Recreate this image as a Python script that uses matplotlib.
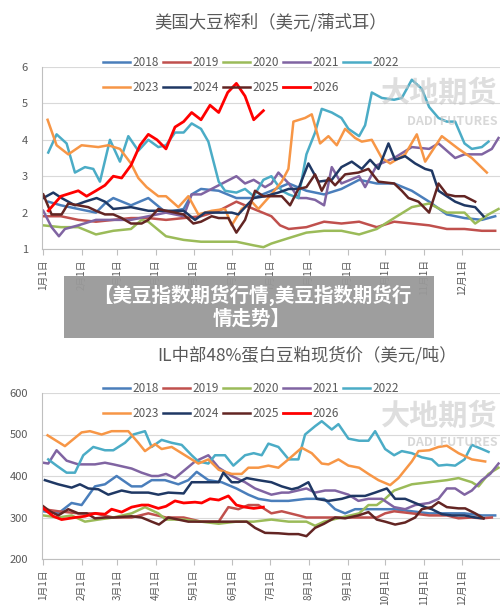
import matplotlib
matplotlib.use("Agg")
import matplotlib.pyplot as plt
from matplotlib.patches import Rectangle

plt.rcParams['font.family'] = ['Noto Sans CJK SC', 'DejaVu Sans']

years = ['2018','2019','2020','2021','2022','2023','2024','2025','2026']
colors = ['#4a7ebb','#c0504d','#9bbb59','#8064a2','#4bacc6','#f79646','#1f3864','#632523','#ff0000']
month_days = [0,31,59,90,120,151,181,212,243,273,304,334]
month_labels = [f'{m}月1日' for m in range(1,13)]

# positions are read in 1/3-pixel units of the reference; converted to day-of-year
def to_day(xs):
    return [(x-135)/3.757 for x in xs]

crush = {
 '2018': ([150,188,240,293,320,345,398,450,503,556,580,608,661,714,766,819,871,924,977,1029,1082,1135,1187,1240,1292,1345,1398,1450,1490],
          [2.3,2.2,2.1,2.0,2.25,2.4,2.2,2.4,2.0,2.1,2.5,2.65,2.6,2.4,2.4,2.6,2.8,2.6,2.5,2.65,2.9,2.8,2.8,2.6,2.3,1.95,1.85,1.8,1.9]),
 '2019': ([135,188,240,293,345,398,450,503,556,608,661,714,766,819,845,871,924,977,1029,1082,1135,1187,1240,1292,1345,1398,1450,1490],
          [1.9,1.9,1.8,1.75,1.8,1.85,1.85,1.8,1.85,1.9,2.05,2.3,2.1,1.9,1.65,1.55,1.6,1.75,1.7,1.75,1.6,1.75,1.7,1.65,1.55,1.55,1.5,1.5]),
 '2020': ([135,188,240,293,345,398,430,450,503,556,608,661,714,766,795,819,871,924,977,1029,1082,1135,1187,1240,1292,1345,1398,1430,1470,1500],
          [1.65,1.6,1.6,1.4,1.5,1.55,1.8,1.75,1.35,1.25,1.2,1.2,1.2,1.1,1.05,1.15,1.3,1.45,1.5,1.5,1.4,1.55,1.85,2.15,2.25,2.0,2.0,1.7,1.95,2.1]),
 '2021': ([135,160,182,200,240,293,345,398,450,503,556,580,608,661,714,740,766,800,819,840,871,900,924,950,977,1000,1029,1082,1100,1135,1187,1240,1292,1320,1345,1370,1398,1450,1480,1500],
          [2.05,1.6,1.35,1.55,1.65,1.8,1.8,1.8,1.9,2.0,1.9,2.5,2.5,2.75,3.0,2.8,2.9,2.7,2.8,3.1,2.8,2.4,2.4,2.35,2.2,3.25,2.8,3.0,2.7,3.3,3.5,3.8,3.75,3.9,3.7,3.5,3.6,3.6,3.75,4.05]),
 '2022': ([150,175,205,230,260,285,305,335,365,390,420,450,480,503,530,556,580,608,630,661,680,714,740,766,795,819,850,871,900,924,950,970,1000,1029,1050,1082,1100,1120,1150,1187,1210,1240,1270,1292,1320,1345,1370,1398,1420,1450,1470],
          [3.65,4.15,3.9,3.1,3.25,3.2,2.85,4.0,3.4,4.1,3.7,4.0,3.8,3.85,4.2,4.2,4.45,4.3,3.95,2.85,2.6,2.55,2.65,2.45,2.9,3.0,2.6,2.5,2.4,3.6,4.2,4.85,4.75,4.6,4.3,4.1,4.4,5.3,5.15,5.1,5.15,5.65,5.4,4.9,4.6,4.5,4.5,3.9,3.75,3.8,3.95]),
 '2023': ([148,175,210,250,300,330,365,398,420,445,480,503,540,570,600,640,680,700,730,760,780,819,850,870,885,920,940,965,990,1015,1040,1070,1090,1120,1150,1175,1220,1255,1280,1330,1380,1420,1465],
          [4.55,3.85,3.6,3.85,3.8,3.85,3.75,3.35,2.95,2.7,2.45,2.45,2.15,2.45,1.95,2.05,2.1,1.65,2.1,2.3,2.1,2.5,2.85,3.2,4.5,4.6,4.7,3.9,4.1,3.85,4.3,4.05,3.95,4.0,3.5,3.35,3.6,4.15,3.4,4.1,3.75,3.5,3.1]),
 '2024': ([135,165,190,230,260,295,320,345,398,450,503,556,590,620,661,700,720,766,800,840,871,900,930,960,1000,1029,1060,1090,1115,1140,1170,1190,1220,1250,1280,1300,1320,1345,1370,1398,1430,1455],
          [2.4,2.55,2.4,2.2,2.3,2.4,2.3,2.1,2.15,2.05,2.05,2.05,1.8,2.0,2.0,2.0,1.95,2.4,2.45,2.55,2.65,2.65,3.35,2.85,2.9,3.25,3.4,3.2,3.45,3.2,3.9,3.45,3.55,3.35,3.2,3.15,2.6,2.45,2.3,2.2,2.15,1.9]),
 '2025': ([135,160,190,210,240,270,293,320,345,370,398,430,450,480,503,530,556,585,608,640,661,690,714,740,770,795,819,850,875,900,924,950,970,990,1010,1040,1080,1110,1140,1187,1210,1230,1260,1292,1320,1345,1370,1398,1430],
          [2.5,1.95,1.95,2.25,2.2,2.15,2.05,1.95,1.95,1.85,1.7,1.7,1.8,2.1,2.05,2.0,1.95,1.7,1.75,1.9,1.85,1.85,1.45,1.8,2.6,2.45,2.45,2.45,2.2,2.65,2.7,3.05,2.6,2.95,2.75,3.05,3.1,3.2,2.85,2.8,2.6,2.4,2.3,2.0,2.8,2.5,2.45,2.45,2.3]),
 '2026': ([150,188,240,265,293,320,345,370,398,425,450,476,503,530,556,580,608,635,661,688,714,740,766,795],
          [2.05,2.45,2.6,2.45,2.6,2.75,3.0,2.95,3.3,3.85,4.15,4.0,3.75,4.35,4.5,4.75,4.55,4.95,4.75,5.3,5.55,5.2,4.55,4.8]),
}

meal = {
 '2018': ([135,180,220,250,290,320,355,400,430,460,500,540,570,595,630,670,714,750,780,819,870,924,977,1010,1040,1070,1135,1187,1240,1292,1345,1398,1450,1490],
          [315,310,335,330,375,380,400,375,375,390,390,380,390,410,390,385,370,355,345,340,340,345,345,320,310,320,320,320,315,310,310,310,305,305]),
 '2019': ([135,180,240,290,345,400,450,503,556,608,661,690,720,750,780,819,850,900,924,977,1029,1082,1135,1160,1187,1240,1292,1345,1380,1420,1450,1480],
          [320,315,310,310,300,300,310,300,300,290,290,325,320,330,330,310,315,305,300,300,300,300,300,310,315,310,305,305,298,300,298,300]),
 '2020': ([135,180,220,260,300,345,400,440,480,503,556,608,661,714,766,819,871,924,950,977,1029,1082,1110,1135,1160,1187,1240,1292,1345,1380,1420,1440,1470,1500],
          [305,300,305,290,295,300,310,325,310,295,295,290,285,290,290,295,290,290,280,290,300,310,330,330,345,365,380,385,390,395,385,375,405,420]),
 '2021': ([135,150,175,205,240,290,320,345,400,430,460,480,503,530,560,590,630,661,700,740,770,819,850,871,924,950,980,1010,1050,1080,1110,1150,1187,1220,1250,1292,1320,1345,1370,1398,1420,1450,1475,1500],
          [432,430,462,437,428,428,432,428,418,408,400,400,405,395,415,435,450,420,400,385,370,355,360,360,370,360,365,365,355,340,345,345,325,320,330,335,345,370,370,355,365,390,405,430]),
 '2022': ([150,175,205,230,255,285,320,345,380,405,440,460,490,520,550,580,600,630,650,680,705,740,766,790,810,840,871,900,920,950,970,1000,1020,1050,1082,1110,1130,1160,1187,1210,1240,1270,1300,1320,1345,1370,1398,1420,1450,1470],
          [440,425,408,408,450,470,462,462,480,500,508,470,487,480,475,450,435,430,450,450,425,450,455,450,478,470,440,440,500,520,532,512,525,490,485,485,508,465,450,460,455,445,440,425,427,425,440,475,465,458]),
 '2023': ([148,200,250,275,310,340,390,420,440,470,490,520,550,600,630,661,700,730,750,780,810,840,870,910,940,970,990,1020,1050,1082,1110,1140,1175,1200,1240,1260,1292,1320,1345,1380,1420,1460],
          [498,472,505,508,500,508,508,480,460,477,465,470,455,430,440,415,405,405,420,420,425,420,440,468,455,430,428,440,425,420,405,390,378,395,435,460,462,470,473,455,440,435]),
 '2024': ([140,180,220,245,270,300,330,370,400,450,480,510,556,580,620,661,675,700,720,745,780,819,850,880,900,930,955,990,1030,1060,1100,1130,1165,1190,1220,1250,1280,1300,1330,1360,1398,1430,1455],
          [390,380,372,380,370,368,355,365,360,360,355,360,358,385,385,385,408,385,385,395,390,385,375,368,372,385,345,340,345,352,352,360,370,345,345,335,325,320,308,305,305,300,298]),
 '2025': ([135,155,180,210,240,265,290,320,345,380,400,430,460,482,510,540,570,608,661,714,745,770,800,840,871,900,924,950,977,1010,1040,1080,1110,1135,1160,1190,1220,1250,1270,1300,1320,1345,1380,1400,1430,1455],
          [327,315,305,320,310,310,298,300,300,302,303,300,290,283,300,295,290,290,290,290,290,275,263,262,260,260,255,275,285,300,298,305,313,295,290,283,288,300,320,325,337,325,322,322,310,298]),
 '2026': ([135,165,190,230,260,290,320,340,370,400,430,450,480,503,530,556,590,610,635,661,690,714,740,766,795],
          [322,303,295,300,303,310,308,320,313,325,330,330,322,327,340,335,337,335,345,342,352,330,325,322,325]),
}

W, H = 500, 616
fig = plt.figure(figsize=(5.0, 6.16), dpi=100)
fig.patch.set_facecolor('white')
gray = '#595959'

def make_ax(top_px, bot_px, data, ylim, yticks, title, title_x, title_y):
    ax = fig.add_axes([42/W, 1-bot_px/H, (W-42)/W, (bot_px-top_px)/H])
    lines = {}
    for y, c in zip(years, colors):
        xs, vs = data[y]
        lw = 2.0 if y == '2026' else 1.8
        lines[y], = ax.plot(to_day(xs), vs, color=c, lw=lw, label=y, solid_joinstyle='round')
    ax.set_xlim(-1, 364.5)
    ax.set_ylim(*ylim)
    ax.set_yticks(yticks)
    ax.grid(axis='y', color='#d9d9d9', lw=0.8)
    ax.set_axisbelow(True)
    for s in ['top', 'right']:
        ax.spines[s].set_visible(False)
    for s in ['left', 'bottom']:
        ax.spines[s].set_color('#bfbfbf')
    ax.set_xticks(month_days)
    ax.set_xticklabels(month_labels, rotation=90, fontsize=7, color=gray)
    ax.tick_params(axis='x', length=4, color='#bfbfbf')
    ax.tick_params(axis='y', length=0, labelsize=8, labelcolor=gray, pad=10)
    order = ['2018','2023','2019','2024','2020','2025','2021','2026','2022']
    ax.legend([lines[o] for o in order], order, ncol=5, frameon=False,
              loc='upper left', bbox_to_anchor=(56/458, 1.0 + 16/(bot_px-top_px)),
              fontsize=8.5, labelcolor=gray, handlelength=2.3, handletextpad=0.2,
              columnspacing=0.35, labelspacing=1.05, borderaxespad=0)
    fig.text(title_x/W, 1-title_y/H, title, ha='center', va='center', fontsize=12.5, color=gray)
    # watermark
    ax.text(0.995, 0.86, '大地期货', transform=ax.transAxes, ha='right', va='center',
            fontsize=21, color='#c8c8c8', alpha=0.6, fontweight='bold')
    ax.text(0.995, 0.70, 'DADI FUTURES', transform=ax.transAxes, ha='right', va='center',
            fontsize=9, color='#c8c8c8', alpha=0.7, fontweight='bold')
    return ax

make_ax(67, 249, crush, (1, 6), [1,2,3,4,5,6], '美国大豆榨利（美元/蒲式耳）', 271, 22)
make_ax(393, 559, meal, (200, 600), [200,300,400,500,600], 'IL中部48%蛋白豆粕现货价（美元/吨）', 307, 355)

fig.patches.append(Rectangle((64/W, 1-338/H), (434-64)/W, (338-276)/H, transform=fig.transFigure,
                             facecolor='#999999', edgecolor='none', alpha=0.95, zorder=10))
fig.text(252/W, 1-307/H, '【美豆指数期货行情,美豆指数期货行\n情走势】', ha='center', va='center',
         fontsize=14, color='white', fontweight='bold', zorder=11, linespacing=1.25)

fig.savefig('out.png', dpi=100)
